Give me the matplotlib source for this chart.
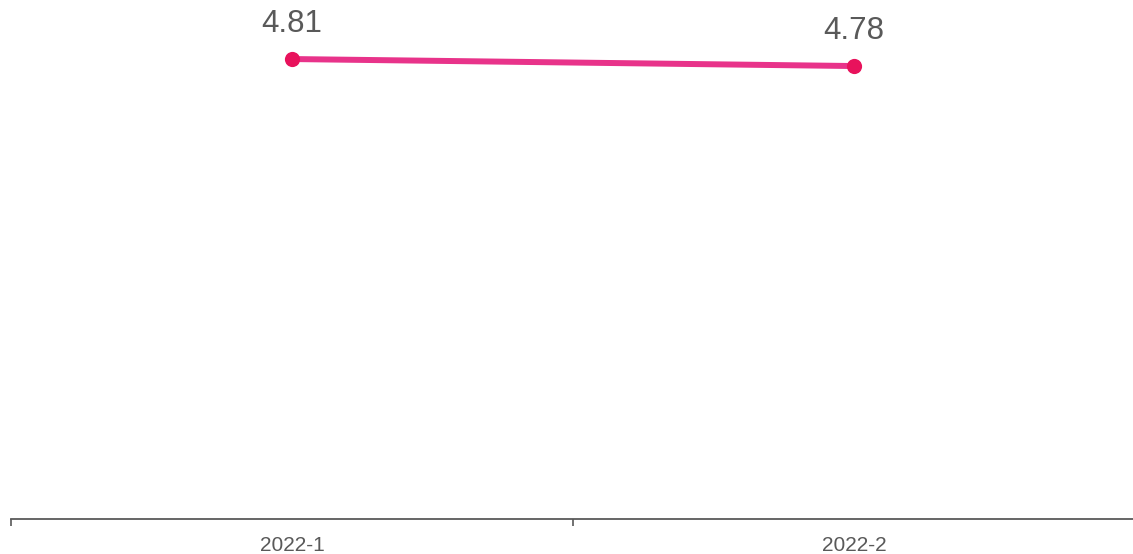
import matplotlib
matplotlib.use('Agg')
import matplotlib.pyplot as plt

plt.rcParams['font.family'] = ['Liberation Sans', 'DejaVu Sans']

periods = ['2022-1', '2022-2']
values = [4.81, 4.78]

fig = plt.figure(figsize=(11.33, 5.54), dpi=100)
ax = fig.add_axes([11 / 1133, 35 / 554, 1124 / 1133, 519 / 554])

x = list(range(len(periods)))
ax.plot(x, values, color='#E8338A', linewidth=4.3, solid_capstyle='round', zorder=2)
ax.scatter(x, values, s=120, color='#E8125C', zorder=3, linewidths=0)

for xi, v in zip(x, values):
    ax.annotate(f'{v:.2f}', (xi, v), xytext=(0, 25.5), textcoords='offset points',
                ha='center', va='center', fontsize=22.5, color='#595959')

ax.set_xlim(-0.5, len(periods) - 0.5)
ax.set_ylim(2.839, 5.063)

# category boundaries get ticks, labels sit in the middle
ax.set_xticks([i - 0.5 for i in range(len(periods) + 1)])
ax.set_xticklabels([])
ax.set_xticks(x, minor=True)
ax.set_xticklabels(periods, minor=True, fontsize=15, color='#595959')
ax.tick_params(axis='x', which='major', length=5, width=1.2, color='#595959')
ax.tick_params(axis='x', which='minor', length=0, pad=12)
ax.set_yticks([])

for s in ['top', 'right', 'left']:
    ax.spines[s].set_visible(False)
ax.spines['bottom'].set_color('#595959')
ax.spines['bottom'].set_linewidth(1.3)

fig.savefig('out.png', dpi=100)
